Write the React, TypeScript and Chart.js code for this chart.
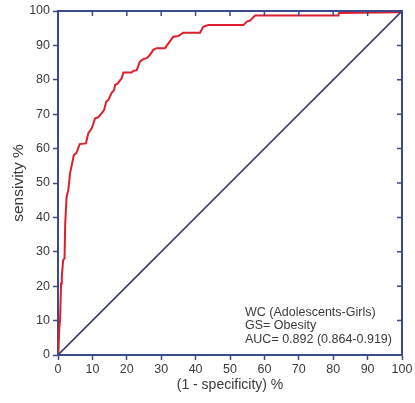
import React, { useEffect, useRef } from "react";
import { Chart, registerables } from "chart.js";

Chart.register(...registerables);

const fpr = [0, 0.1, 0.4, 0.6, 0.9, 1.1, 1.5, 1.9, 2.1, 2.5, 3.0, 3.5, 4.0, 4.6, 5.4, 6.3, 8.1, 8.8, 9.8, 10.8, 11.7, 13.4, 14.0, 14.6, 15.6, 16.3, 16.6, 17.2, 18.5, 19.0, 21.4, 21.9, 22.9, 23.8, 24.8, 25.8, 26.7, 27.7, 28.7, 31.1, 32.1, 33.5, 35.0, 36.4, 41.3, 42.2, 43.7, 53.9, 54.9, 55.8, 57.3, 81.5, 81.7, 99.4, 100];
const tpr = [0, 0.5, 8.2, 10, 20.8, 22.8, 27.6, 28.1, 38.2, 46, 48, 52.8, 55.2, 58.1, 58.8, 61.3, 61.5, 64.4, 65.9, 68.8, 69.1, 71.2, 73.6, 74.1, 76.2, 77, 78.5, 78.8, 80.4, 82.1, 82.1, 82.6, 82.8, 85.3, 86, 86.3, 87.2, 88.7, 89.2, 89.2, 90.6, 92.5, 92.7, 93.7, 93.7, 95.4, 95.9, 95.9, 96.9, 97.2, 98.7, 98.7, 99.4, 99.6, 100];
const refX = [0, 100];
const refY = [0, 100];
const annotationLines = ["WC (Adolescents-Girls)", "GS= Obesity", "AUC= 0.892 (0.864-0.919)"];
const xTitle = "(1 - specificity) %";
const yTitle = "sensivity %";

const AXIS = "#3a4a8e";
const TEXT = "#3a3a3a";
const FONT = "'Liberation Sans', Arial, sans-serif";

const frame = {
  id: "frame",
  afterDraw(chart: any) {
    const { ctx, chartArea: a, scales } = chart;
    ctx.save();
    ctx.strokeStyle = AXIS;
    ctx.lineWidth = 2;
    ctx.beginPath();
    ctx.moveTo(a.left, a.top);
    ctx.lineTo(a.right, a.top);
    ctx.lineTo(a.right, a.bottom);
    ctx.stroke();
    ctx.lineWidth = 1.5;
    ctx.beginPath();
    for (const t of scales.x.ticks) {
      const px = scales.x.getPixelForValue(t.value);
      ctx.moveTo(px, a.top);
      ctx.lineTo(px, a.top + 5);
    }
    for (const t of scales.y.ticks) {
      const py = scales.y.getPixelForValue(t.value);
      ctx.moveTo(a.right, py);
      ctx.lineTo(a.right - 5, py);
    }
    ctx.stroke();
    ctx.restore();
  },
};

export default function App() {
  const ref = useRef<HTMLCanvasElement>(null);
  useEffect(() => {
    if (!ref.current) return;
    const chart = new Chart(ref.current, {
      type: "scatter",
      data: {
        datasets: [
          {
            data: refX.map((x, i) => ({ x, y: refY[i] })),
            showLine: true,
            borderColor: "#3d3f6e",
            borderWidth: 1.6,
            pointRadius: 0,
          },
          {
            data: fpr.map((x, i) => ({ x, y: tpr[i] })),
            showLine: true,
            borderColor: "#dc1f2a",
            borderWidth: 2,
            pointRadius: 0,
          },
        ],
      },
      options: {
        animation: false,
        responsive: true,
        maintainAspectRatio: false,
        layout: { padding: { top: 11, right: 13, left: 0, bottom: 0 } },
        plugins: { legend: { display: false }, tooltip: { enabled: false } },
        scales: {
          x: {
            type: "linear",
            min: 0,
            max: 100,
            ticks: { stepSize: 10, color: TEXT, font: { family: FONT, size: 12.5 }, padding: 2 },
            grid: { drawOnChartArea: false, tickLength: 5, color: AXIS, tickWidth: 1.5 },
            border: { color: AXIS, width: 2 },
            title: { display: true, text: xTitle, color: TEXT, font: { family: FONT, size: 14 }, padding: { top: 0, bottom: 9 } },
            afterFit: (s: any) => { s.height = 48; },
          },
          y: {
            type: "linear",
            min: 0,
            max: 100,
            ticks: { stepSize: 10, color: TEXT, font: { family: FONT, size: 12.5 }, padding: 3 },
            grid: { drawOnChartArea: false, tickLength: 5, color: AXIS, tickWidth: 1.5 },
            border: { color: AXIS, width: 2 },
            title: { display: true, text: yTitle, color: TEXT, font: { family: FONT, size: 15.5 }, padding: { top: 9, bottom: 0 } },
            afterFit: (s: any) => { s.width = 58; },
          },
        },
      },
      plugins: [frame],
    });
    return () => chart.destroy();
  }, []);
  return (
    <div style={{ position: "absolute", left: 0, top: 0, width: 415, height: 403, background: "#fff" }}>
      <canvas ref={ref} />
      <div
        style={{
          position: "absolute",
          left: 245,
          top: 306,
          fontFamily: FONT,
          fontSize: 12.5,
          lineHeight: "13.3px",
          color: TEXT,
          whiteSpace: "nowrap",
        }}
      >
        {annotationLines.map((l) => (
          <div key={l}>{l}</div>
        ))}
      </div>
    </div>
  );
}
